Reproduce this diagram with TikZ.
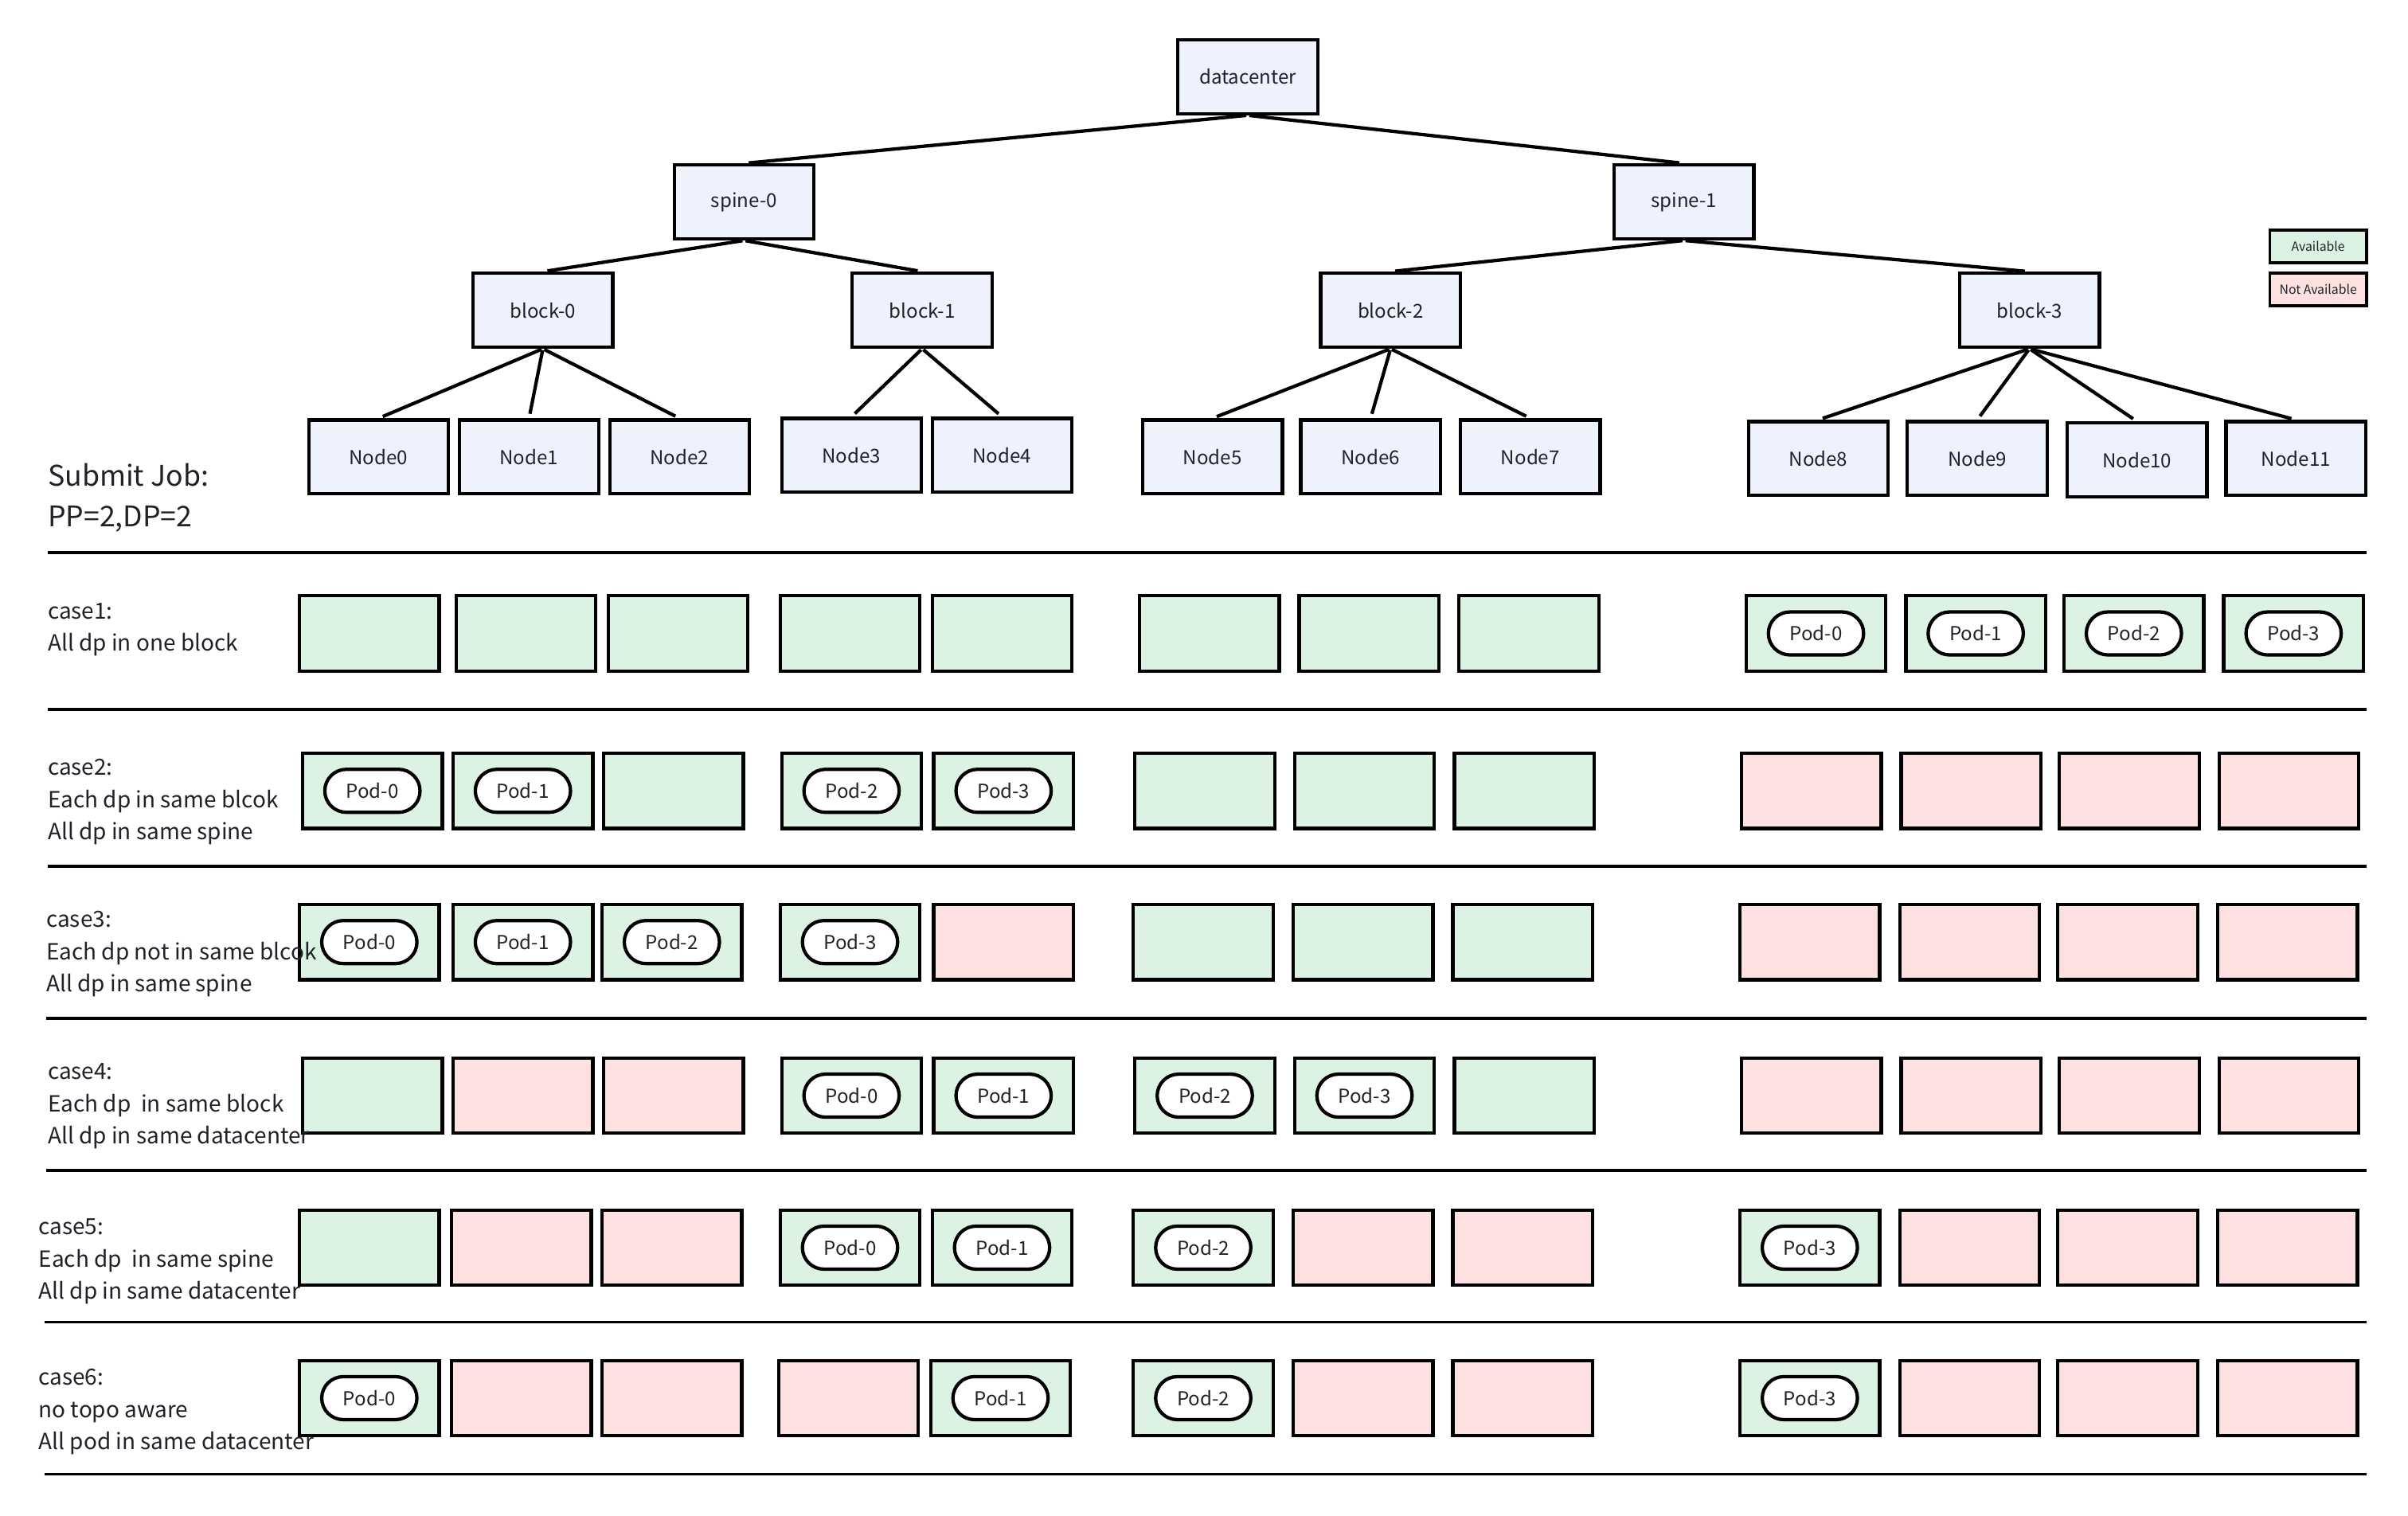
\documentclass[tikz,border=0pt]{standalone}
\usepackage{fontspec}
\setmainfont{Noto Sans CJK SC}
\usetikzlibrary{shapes.misc}

\definecolor{topofill}{HTML}{EEF2FC}
\definecolor{okfill}{HTML}{DCF3E3}
\definecolor{nofill}{HTML}{FDE1E1}
\definecolor{ink}{HTML}{1F2329}

\tikzset{
  box/.style={draw=black, line width=2.2pt, minimum width=91pt, minimum height=48pt,
              inner sep=0pt, text=ink, font=\fontsize{12.5}{14}\selectfont},
  topo/.style={box, fill=topofill},
  slotok/.style={box, fill=okfill, minimum height=49pt},
  slotno/.style={box, fill=nofill, minimum height=49pt},
  pod/.style={rounded rectangle, draw=black, line width=2.2pt, fill=white,
              minimum width=62pt, minimum height=28pt, inner sep=0pt, text=ink,
              font=\fontsize{12.5}{14}\selectfont},
  link/.style={line width=2.2pt, shorten <=1pt, shorten >=3pt},
  rule/.style={line width=2pt},
  legend/.style={draw=black, line width=2pt, minimum width=63pt, minimum height=21pt,
                 inner sep=0pt, text=ink, font=\fontsize{8.2}{9}\selectfont},
  % base anchor of a multi-line label sits on its last line
  caselabel/.style={anchor=base west, align=left, inner sep=0pt, text=ink,
                    font=\fontsize{14.5}{21}\selectfont},
}

\begin{document}
\begin{tikzpicture}[x=1pt, y=-1pt]
\useasboundingbox (0,0) rectangle (1568,987);
\fill[white] (0,0) rectangle (1568,987);

% topology tree
\node[topo] (dc) at (812.5,50) {datacenter};
\node[topo] (sp0) at (484.5,131.5) {spine-0};
\node[topo] (sp1) at (1096.5,131.5) {spine-1};
\node[topo] (b0) at (353.5,202) {block-0};
\node[topo] (b1) at (600.5,202) {block-1};
\node[topo] (b2) at (905.5,202) {block-2};
\node[topo] (b3) at (1321.5,202) {block-3};
\foreach \i/\x/\y in {0/246.5/297.5, 1/344.5/297.5, 2/442.5/297.5,
                      3/554.5/296.5, 4/652.5/296.5,
                      5/789.5/297.5, 6/892.5/297.5, 7/996.5/297.5,
                      8/1184/298.5, 9/1287.5/298.5, 10/1391.5/299.5, 11/1495/298.5}
  \node[topo] (n\i) at (\x,\y) {Node\i};

\draw[link] (dc.south) -- (sp0.north);
\draw[link] (dc.south) -- (sp1.north);
\draw[link] (sp0.south) -- (b0.north);
\draw[link] (sp0.south) -- (b1.north);
\draw[link] (sp1.south) -- (b2.north);
\draw[link] (sp1.south) -- (b3.north);
\foreach \c in {0,1,2} \draw[link] (b0.south) -- (n\c.north);
\foreach \c in {3,4} \draw[link] (b1.south) -- (n\c.north);
\foreach \c in {5,6,7} \draw[link] (b2.south) -- (n\c.north);
\foreach \c in {8,9,10,11} \draw[link] (b3.south) -- (n\c.north);

% legend
\node[legend, fill=okfill] (lgok) at (1509.5,160.5) {Available};
\node[legend, fill=nofill] (lgno) at (1509.5,188.5) {Not Available};

% row separators
\foreach \y/\x in {360/31, 462/31, 564/31, 663/30, 762/30, 861/29, 960/29}
  \draw[rule] (\x,\y) -- (1541,\y);

% case1 placement
\foreach \c/\x/\s in {1/195/slotok, 2/297/slotok, 3/396/slotok, 4/508/slotok, 5/607/slotok, 6/742/slotok,
                      7/846/slotok, 8/950/slotok, 9/1137/slotok, 10/1241/slotok, 11/1344/slotok, 12/1448/slotok}
  \node[\s] (s1-\c) at (\x+45.5,412.5) {};
\foreach \c/\t in {9/Pod-0, 10/Pod-1, 11/Pod-2, 12/Pod-3}
  \node[pod] (p1-\c) at (s1-\c) {\t};

% case2 placement
\foreach \c/\x/\s in {1/197/slotok, 2/295/slotok, 3/393/slotok, 4/509/slotok, 5/608/slotok, 6/739/slotok,
                      7/843/slotok, 8/947/slotok, 9/1134/slotno, 10/1238/slotno, 11/1341/slotno, 12/1445/slotno}
  \node[\s] (s2-\c) at (\x+45.5,515) {};
\foreach \c/\t in {1/Pod-0, 2/Pod-1, 4/Pod-2, 5/Pod-3}
  \node[pod] (p2-\c) at (s2-\c) {\t};

% case3 placement
\foreach \c/\x/\s in {1/195/slotok, 2/295/slotok, 3/392/slotok, 4/508/slotok, 5/608/slotno, 6/738/slotok,
                      7/842/slotok, 8/946/slotok, 9/1133/slotno, 10/1237/slotno, 11/1340/slotno, 12/1444/slotno}
  \node[\s] (s3-\c) at (\x+45.5,613.5) {};
\foreach \c/\t in {1/Pod-0, 2/Pod-1, 3/Pod-2, 4/Pod-3}
  \node[pod] (p3-\c) at (s3-\c) {\t};

% case4 placement
\foreach \c/\x/\s in {1/197/slotok, 2/295/slotno, 3/393/slotno, 4/509/slotok, 5/608/slotok, 6/739/slotok,
                      7/843/slotok, 8/947/slotok, 9/1134/slotno, 10/1238/slotno, 11/1341/slotno, 12/1445/slotno}
  \node[\s] (s4-\c) at (\x+45.5,713.5) {};
\foreach \c/\t in {4/Pod-0, 5/Pod-1, 6/Pod-2, 7/Pod-3}
  \node[pod] (p4-\c) at (s4-\c) {\t};

% case5 placement
\foreach \c/\x/\s in {1/195/slotok, 2/294/slotno, 3/392/slotno, 4/508/slotok, 5/607/slotok, 6/738/slotok,
                      7/842/slotno, 8/946/slotno, 9/1133/slotok, 10/1237/slotno, 11/1340/slotno, 12/1444/slotno}
  \node[\s] (s5-\c) at (\x+45.5,812.5) {};
\foreach \c/\t in {4/Pod-0, 5/Pod-1, 6/Pod-2, 9/Pod-3}
  \node[pod] (p5-\c) at (s5-\c) {\t};

% case6 placement
\foreach \c/\x/\s in {1/195/slotok, 2/294/slotno, 3/392/slotno, 4/507/slotno, 5/606/slotok, 6/738/slotok,
                      7/842/slotno, 8/946/slotno, 9/1133/slotok, 10/1237/slotno, 11/1340/slotno, 12/1444/slotno}
  \node[\s] (s6-\c) at (\x+45.5,910.5) {};
\foreach \c/\t in {1/Pod-0, 5/Pod-1, 6/Pod-2, 9/Pod-3}
  \node[pod] (p6-\c) at (s6-\c) {\t};

% job description and case descriptions, drawn on top of the slots
\node[caselabel, font=\fontsize{18.5}{26.5}\selectfont] (job) at (31,343) {Submit Job:\\PP=2,DP=2};
\node[caselabel] (case1) at (31,424) {case1:\\All dp in one block};
\node[caselabel] (case2) at (31,547) {case2:\\Each dp in same blcok\\All dp in same spine};
\node[caselabel] (case3) at (30,646) {case3:\\Each dp not in same blcok\\All dp in same spine};
\node[caselabel] (case4) at (31,745) {case4:\\Each dp~ in same block\\All dp in same datacenter};
\node[caselabel] (case5) at (25,846) {case5:\\Each dp~ in same spine\\All dp in same datacenter};
\node[caselabel] (case6) at (25,944) {case6:\\no topo aware\\All pod in same datacenter};
\end{tikzpicture}
\end{document}
